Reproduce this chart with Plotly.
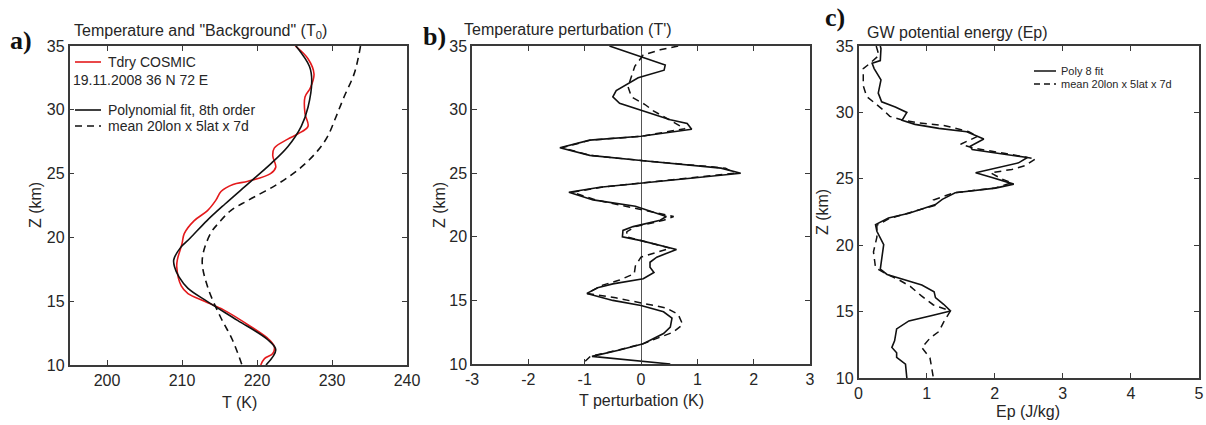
import plotly.graph_objects as go

# ---------------- Panel a: temperature and background ----------------
red_z = [35.0, 34.0, 32.8, 31.7, 31.0, 29.7, 28.7, 28.1, 27.7, 27.0, 26.4, 25.5, 25.0, 24.4, 24.15,
         23.6, 22.9, 22.1, 21.3, 20.3, 19.5, 18.3, 17.7, 16.2, 15.6, 15.0, 14.3, 13.0, 12.0, 11.45,
         10.9, 10.5, 10.0]
red_T = [225.1, 226.8, 227.6, 227.1, 226.4, 226.4, 226.8, 225.4, 224.1, 222.3, 222.1, 222.5, 221.8,
         218.8, 216.8, 215.2, 214.5, 213.4, 211.6, 210.3, 210.0, 209.4, 209.3, 209.9, 210.8, 213.0,
         215.6, 219.2, 221.6, 222.3, 222.1, 221.0, 220.5]

poly_z = [35.0, 33.4, 32.3, 30.2, 28.7, 27.1, 25.8, 24.2, 22.6, 21.3, 19.95, 19.2, 18.25, 17.7,
          16.9, 16.0, 14.97, 13.5, 12.0, 11.2, 10.0]
poly_T = [225.2, 227.0, 227.3, 226.8, 225.9, 224.1, 221.9, 218.8, 215.7, 213.3, 211.1, 209.8, 208.9,
          209.0, 209.6, 210.8, 213.4, 217.4, 221.4, 222.5, 221.2]

mean_z = [35.0, 32.9, 31.0, 29.4, 27.9, 26.8, 25.5, 24.2, 22.9, 22.1, 21.2, 20.3, 18.25, 16.15,
          13.8, 12.0, 10.0]
mean_T = [233.8, 233.0, 231.6, 230.5, 229.4, 228.1, 225.9, 222.8, 218.8, 216.5, 215.0, 213.8, 212.7,
          213.4, 215.1, 216.7, 218.0]

# ---------------- Panel b: temperature perturbation ----------------
tp_poly_z = [35.0, 34.2, 33.5, 33.1, 32.5, 31.5, 31.0, 30.5, 30.0, 29.2, 28.9, 28.45, 27.9, 27.6,
             27.0, 26.4, 26.0, 25.4, 25.0, 24.2, 23.9, 23.5, 22.9, 22.4, 21.6, 21.3, 20.8, 20.5,
             20.0, 19.7, 19.0, 18.4, 18.0, 17.6, 17.2, 16.7, 16.3, 16.0, 15.55, 15.0, 14.6, 14.1,
             13.6, 12.9, 12.4, 11.6, 11.1, 10.6, 10.0]
tp_poly = [-0.56, -0.05, 0.43, 0.41, -0.05, -0.44, -0.50, -0.38, -0.02, 0.52, 0.82, 0.90, 0.0, -0.91,
           -1.44, -0.91, 0.0, 1.42, 1.77, 0.0, -0.73, -1.28, -0.85, -0.10, 0.45, 0.34, -0.14, -0.32,
           -0.33, 0.0, 0.63, 0.28, 0.16, 0.16, 0.23, 0.04, -0.50, -0.77, -0.96, -0.50, 0.0, 0.40,
           0.55, 0.52, 0.40, 0.04, -0.38, -0.87, 0.52]

tp_mean_z = [35.0, 34.7, 34.3, 33.4, 32.6, 31.8, 31.0, 30.4, 29.9, 29.2, 28.5, 27.9, 27.6, 27.0,
             26.4, 26.0, 25.4, 25.0, 24.2, 23.9, 23.5, 22.9, 21.6, 21.3, 20.8, 20.4, 20.0, 19.7,
             19.1, 18.4, 17.7, 17.1, 16.6, 16.2, 15.55, 15.2, 14.8, 14.4, 13.9, 13.1, 12.5, 12.0,
             11.6, 11.1, 10.6, 10.0]
tp_mean = [0.66, 0.34, 0.04, -0.11, -0.17, -0.23, -0.17, 0.07, 0.22, 0.50, 0.78, 0.0, -0.90, -1.40,
           -0.90, 0.0, 1.50, 1.65, 0.0, -0.70, -1.22, -0.80, 0.58, 0.40, -0.10, -0.25, -0.26, 0.0,
           0.52, 0.0, -0.10, -0.12, -0.38, -0.68, -0.96, -0.45, 0.0, 0.45, 0.66, 0.74, 0.57, 0.28,
           0.04, -0.40, -0.90, -1.04]

# ---------------- Panel c: GW potential energy ----------------
ep_poly_z = [35.0, 34.8, 33.9, 33.7, 33.3, 32.45, 31.45, 30.8, 30.4, 30.0, 29.4, 29.1, 28.8, 28.55,
             28.0, 27.45, 27.2, 26.6, 26.2, 25.45, 25.1, 24.6, 24.3, 23.95, 23.45, 23.06, 22.4,
             22.05, 21.55, 21.05, 20.05, 19.05, 18.2, 17.8, 17.4, 17.0, 16.5, 16.05, 15.55, 15.05,
             14.7, 14.3, 13.7, 12.8, 12.3, 11.9, 11.55, 11.05, 10.0]
ep_poly = [0.32, 0.33, 0.32, 0.20, 0.23, 0.33, 0.29, 0.34, 0.54, 0.71, 0.64, 0.83, 1.18, 1.59, 1.84,
           1.64, 1.67, 2.48, 2.35, 1.72, 1.96, 2.28, 2.01, 1.42, 1.23, 1.13, 0.74, 0.44, 0.25, 0.27,
           0.37, 0.34, 0.32, 0.42, 0.69, 0.93, 1.11, 1.13, 1.25, 1.35, 1.08, 0.74, 0.56, 0.53, 0.49,
           0.56, 0.56, 0.69, 0.71]

ep_mean_z = [35.0, 34.3, 33.7, 33.3, 32.0, 31.2, 30.7, 30.2, 29.7, 29.4, 29.2, 29.0, 28.55, 28.2,
             27.6, 27.3, 26.9, 26.5, 26.0, 25.7, 25.45, 25.0, 24.7, 24.3, 23.95, 23.4, 23.0, 22.4,
             22.0, 21.5, 20.6, 19.5, 18.3, 17.8, 17.4, 16.9, 16.2, 15.5, 15.05, 14.2, 13.5, 13.0,
             12.3, 11.5, 10.2, 10.0]
ep_mean = [0.26, 0.30, 0.17, 0.07, 0.07, 0.12, 0.24, 0.36, 0.46, 0.66, 0.90, 1.27, 1.62, 1.75, 1.50,
           1.70, 2.16, 2.60, 2.45, 2.25, 1.94, 2.10, 2.25, 2.00, 1.40, 1.10, 1.12, 0.74, 0.45, 0.27,
           0.27, 0.22, 0.25, 0.42, 0.59, 0.76, 0.92, 1.10, 1.35, 1.25, 1.18, 1.05, 0.93, 1.05, 1.10,
           1.10]

T_ticks = [200, 210, 220, 230, 240]
Tp_ticks = [-3, -2, -1, 0, 1, 2, 3]
Tp_ticktext = ["-3", "-2", "-1", "0", "1", "2", "3"]
Ep_ticks = [0, 1, 2, 3, 4, 5]
Z_ticks = [10, 15, 20, 25, 30, 35]

W, H = 1206, 425
FONT = "Liberation Sans, Arial, sans-serif"
AX = "#3a3a3a"
TXT = "#262626"
DASH = "7px,5px"


def px(x):
    return min(1.0, max(0.0, x / W))


def py(y):
    return min(1.0, max(0.0, 1 - y / H))


fig = go.Figure()

fig.add_trace(go.Scatter(x=red_T, y=red_z, mode="lines", line=dict(color="#e41a1c", width=1.6, shape="spline"),
                         xaxis="x", yaxis="y", showlegend=False))
fig.add_trace(go.Scatter(x=poly_T, y=poly_z, mode="lines", line=dict(color="#111111", width=1.6, shape="spline"),
                         xaxis="x", yaxis="y", showlegend=False))
fig.add_trace(go.Scatter(x=mean_T, y=mean_z, mode="lines",
                         line=dict(color="#111111", width=1.6, dash=DASH, shape="spline"),
                         xaxis="x", yaxis="y", showlegend=False))

fig.add_trace(go.Scatter(x=tp_mean, y=tp_mean_z, mode="lines", line=dict(color="#111111", width=1.5, dash=DASH),
                         xaxis="x2", yaxis="y2", showlegend=False))
fig.add_trace(go.Scatter(x=tp_poly, y=tp_poly_z, mode="lines", line=dict(color="#111111", width=1.6),
                         xaxis="x2", yaxis="y2", showlegend=False))

fig.add_trace(go.Scatter(x=ep_mean, y=ep_mean_z, mode="lines", line=dict(color="#111111", width=1.5, dash=DASH),
                         xaxis="x3", yaxis="y3", showlegend=False))
fig.add_trace(go.Scatter(x=ep_poly, y=ep_poly_z, mode="lines", line=dict(color="#111111", width=1.6),
                         xaxis="x3", yaxis="y3", showlegend=False))

common = dict(showline=True, linecolor=AX, linewidth=1.5, mirror="allticks", ticks="inside", ticklen=5,
              tickcolor=AX, tickwidth=1.2, showgrid=False, zeroline=False, automargin=False,
              tickfont=dict(family=FONT, size=16, color=TXT))

fig.update_layout(
    width=W, height=H, margin=dict(l=0, r=0, t=0, b=0, autoexpand=False),
    paper_bgcolor="white", plot_bgcolor="white", showlegend=False,
    xaxis=dict(domain=[px(69.5), px(407)], range=[195, 240], tickvals=T_ticks, anchor="y", **common),
    yaxis=dict(domain=[py(365), py(46)], range=[10, 35], tickvals=Z_ticks, anchor="x", **common),
    xaxis2=dict(domain=[px(472), px(810)], range=[-3, 3], tickvals=Tp_ticks, ticktext=Tp_ticktext,
                anchor="y2", **common),
    yaxis2=dict(domain=[py(364), py(46)], range=[10, 35], tickvals=Z_ticks, anchor="x2", **common),
    xaxis3=dict(domain=[px(858.5), px(1199)], range=[0, 5], tickvals=Ep_ticks, anchor="y3", **common),
    yaxis3=dict(domain=[py(378), py(46)], range=[10, 35], tickvals=Z_ticks, anchor="x3", **common),
)
# zero line in panel b
fig.update_layout(xaxis2=dict(zeroline=True, zerolinecolor="#555555", zerolinewidth=1.2))

ann = []
shapes = []


def text(txt, x, y, size, anchor="left", angle=0, family=FONT, color=TXT):
    ann.append(dict(text=txt, x=px(x), y=py(y), xref="paper", yref="paper", xanchor=anchor,
                    yanchor="middle", showarrow=False, textangle=angle,
                    font=dict(family=family, size=size, color=color)))


# panel labels
for lab, x, y in [("a)", 8, 41), ("b)", 421, 36), ("c)", 823, 17)]:
    text(f"<b>{lab}</b>", x, y, 26, family="Liberation Serif, Times New Roman, serif", color="#111111")

# titles
text('Temperature and "Background" (T<sub>0</sub>)', 72, 31, 16)
text("Temperature perturbation (T')", 462, 30, 16)
text("GW potential energy (Ep)", 865, 33, 16)

# axis titles
text("T (K)", 239, 402, 16, anchor="center")
text("T perturbation (K)", 641, 400, 16, anchor="center")
text("Ep (J/kg)", 1028, 411, 16, anchor="center")
text("Z (km)", 35, 205, 16, anchor="center", angle=-90)
text("Z (km)", 439, 205, 16, anchor="center", angle=-90)
text("Z (km)", 823, 212, 16, anchor="center", angle=-90)

# panel a legend
for yv, col, dash, lab in [(62, "#e41a1c", "solid", "Tdry COSMIC"),
                           (110, "#111111", "solid", "Polynomial fit, 8th order"),
                           (126, "#111111", DASH, "mean 20lon x 5lat x 7d")]:
    shapes.append(dict(type="line", xref="paper", yref="paper", x0=px(75), x1=px(101), y0=py(yv), y1=py(yv),
                       line=dict(color=col, width=1.6, dash=dash)))
    text(lab, 106, yv, 14)
text("19.11.2008 36 N 72 E", 71, 80, 14)

# panel c legend
for yv, dash, lab in [(71, "solid", "Poly 8 fit"), (84, "6px,4px", "mean 20lon x 5lat x 7d")]:
    shapes.append(dict(type="line", xref="paper", yref="paper", x0=px(1034), x1=px(1056), y0=py(yv), y1=py(yv),
                       line=dict(color="#111111", width=1.5, dash=dash)))
    text(lab, 1059, yv, 11)

fig.update_layout(annotations=ann, shapes=shapes)
fig.write_html("out.html")
